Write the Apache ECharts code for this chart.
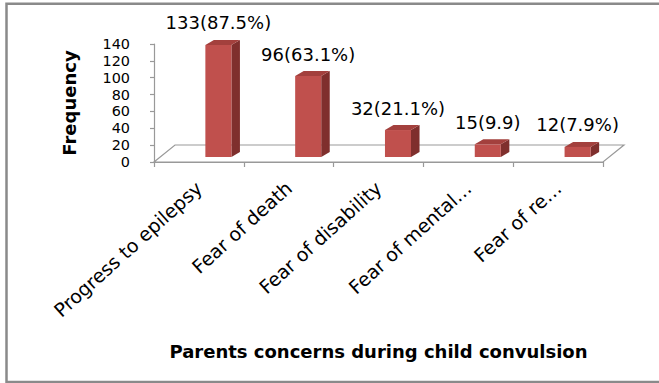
<!DOCTYPE html>
<html>
<head>
<meta charset="utf-8">
<script src="https://cdn.jsdelivr.net/npm/echarts@6/dist/echarts.min.js"></script>
<style>
  html, body { margin: 0; padding: 0; background: #ffffff; }
  #chart { width: 659px; height: 383px; }
</style>
</head>
<body>
<div id="chart"></div>
<script>
// ---- data ----
const categories = ['Progress to epilepsy', 'Fear of death', 'Fear of disability', 'Fear of mental\u2026', 'Fear of re\u2026'];
const frequency = [133, 96, 32, 15, 12];
const valueLabels = ['133(87.5%)', '96(63.1%)', '32(21.1%)', '15(9.9)', '12(7.9%)'];
const yMin = 0, yMax = 140, yStep = 20;
const yAxisTitle = 'Frequency';
const xAxisTitle = 'Parents concerns during child convulsion';

const FONT = '"DejaVu Sans", "Liberation Sans", sans-serif';
const RED_FRONT = '#C0504D';
const RED_SIDE = '#7F2F2D';
const RED_TOP = '#A3403D';
const GRAY = '#999999';

const chart = echarts.init(document.getElementById('chart'), null, { renderer: 'svg' });

function renderFloor(params, api) {
  const cs = params.coordSys;
  const dx = 21, dy = -17;
  const xl = cs.x, xr = cs.x + cs.width, yb = cs.y + cs.height;
  return {
    type: 'polygon',
    z2: 0,
    shape: { points: [[xl, yb], [xl + dx, yb + dy], [xr + dx, yb + dy], [xr, yb]] },
    style: { fill: '#ffffff', stroke: GRAY, lineWidth: 1.2 }
  };
}

function renderBar(params, api) {
  const i = api.value(0);
  const v = api.value(1);
  const base = api.coord([i, 0]);
  const top = api.coord([i, v]);
  const band = api.size([1, 0])[0];
  const w = band * 0.29;
  const cx = base[0] + band * 0.217;
  const dx = band * 0.095, dy = -5, lift = -5;
  const x0 = cx - w / 2, x1 = cx + w / 2;
  const yb = base[1] + lift, yt = top[1] + lift;
  return {
    type: 'group',
    children: [
      { type: 'polygon', shape: { points: [[x1, yt], [x1 + dx, yt + dy], [x1 + dx, yb + dy], [x1, yb]] }, style: { fill: RED_SIDE } },
      { type: 'polygon', shape: { points: [[x0, yt], [x0 + dx, yt + dy], [x1 + dx, yt + dy], [x1, yt]] }, style: { fill: RED_TOP } },
      { type: 'rect', shape: { x: x0, y: yt, width: w, height: yb - yt }, style: { fill: RED_FRONT } },
      { type: 'text', style: { text: valueLabels[i], x: cx, y: yt - 22, align: 'center', verticalAlign: 'middle', fill: '#000000', font: '18px ' + FONT } }
    ]
  };
}

const option = {
  backgroundColor: '#ffffff',
  animation: false,
  grid: { left: 154, right: 56, top: 44, bottom: 221, containLabel: false },
  xAxis: {
    type: 'category',
    data: categories,
    axisLine: { lineStyle: { color: GRAY, width: 1.2 } },
    axisTick: { show: true, length: 5, lineStyle: { color: GRAY, width: 1.2 } },
    axisLabel: { interval: 0, rotate: 42, margin: 23, color: '#000000', fontSize: 19, fontFamily: FONT },
    name: xAxisTitle,
    nameLocation: 'middle',
    nameGap: 180,
    nameTextStyle: { color: '#000000', fontSize: 18, fontWeight: 'bold', fontFamily: FONT, verticalAlign: 'top' }
  },
  yAxis: {
    type: 'value',
    min: yMin, max: yMax, interval: yStep,
    axisLine: { show: true, lineStyle: { color: GRAY, width: 1.2 } },
    axisTick: { show: true, length: 4, lineStyle: { color: GRAY, width: 1.2 } },
    splitLine: { show: false },
    axisLabel: { margin: 24, color: '#000000', fontSize: 14.4, lineHeight: 14, fontFamily: FONT, showMinLabel: true, showMaxLabel: true, hideOverlap: false },
    name: yAxisTitle,
    nameLocation: 'middle',
    nameGap: 76,
    nameTextStyle: { color: '#000000', fontSize: 18, fontWeight: 'bold', fontFamily: FONT }
  },
  graphic: [
    { type: 'rect', shape: { x: 6.5, y: 3.7, width: 700, height: 378.3 }, style: { fill: 'none', stroke: '#8a8a8a', lineWidth: 2.5 }, silent: true, z: 100 }
  ],
  series: [
    { type: 'custom', name: 'floor', renderItem: renderFloor, data: [[0, 0]], z: 1, silent: true },
    { type: 'custom', name: 'Frequency', renderItem: renderBar, data: frequency.map((v, i) => [i, v]), z: 5 }
  ]
};
chart.setOption(option);
</script>
</body>
</html>
